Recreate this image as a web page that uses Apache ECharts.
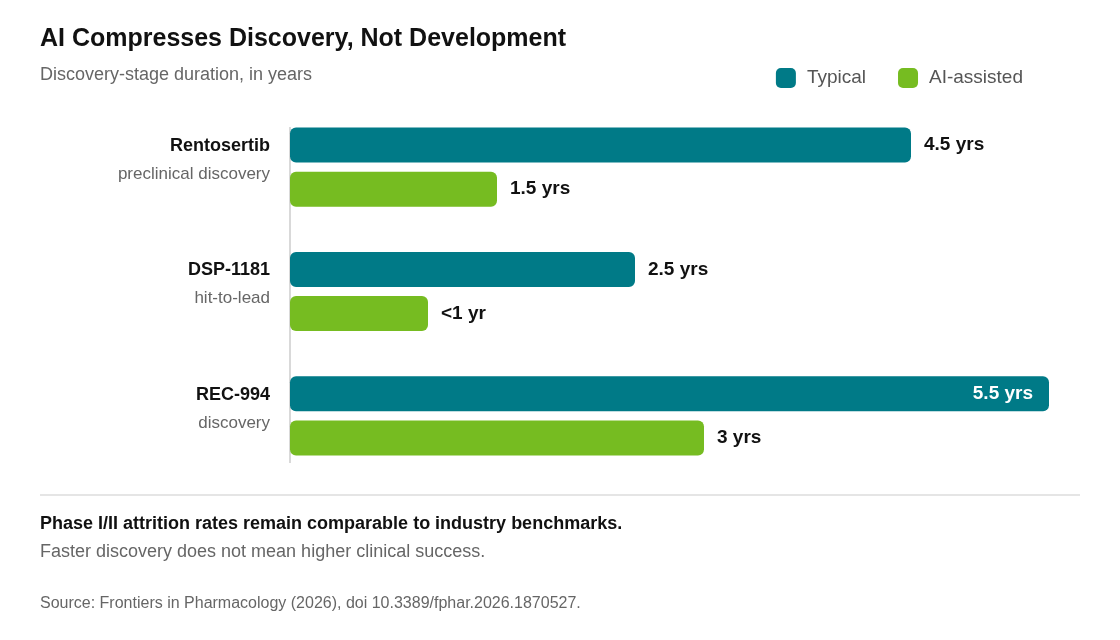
<!DOCTYPE html>
<html>
<head>
<meta charset="utf-8">
<script src="https://cdn.jsdelivr.net/npm/echarts@6/dist/echarts.min.js"></script>
<style>
  html, body { margin: 0; padding: 0; background: #fff; }
  #echart { width: 1120px; height: 640px; }
</style>
</head>
<body>
<div id="echart"></div>
<script>
var dom = document.getElementById("echart");
var myChart = echarts.init(dom);

// data
let drugs = ['Rentosertib', 'DSP-1181', 'REC-994'];
let stages = ['preclinical discovery', 'hit-to-lead', 'discovery'];
let typical = [4.5, 2.5, 5.5];
let aiAssisted = [1.5, 1, 3];
let typicalLabels = ['4.5 yrs', '2.5 yrs', '5.5 yrs'];
let aiLabels = ['1.5 yrs', '<1 yr', '3 yrs'];

let font = '"Liberation Sans", Arial, sans-serif';

let option = {
    textStyle: { fontFamily: font },
    title: {
        text: 'AI Compresses Discovery, Not Development',
        subtext: 'Discovery-stage duration, in years',
        left: 35, top: 22,
        textStyle: { fontSize: 25, fontWeight: 'bold', color: '#111', fontFamily: font },
        subtextStyle: { fontSize: 18, color: '#666', fontFamily: font },
        itemGap: 14
    },
    legend: {
        right: 92, top: 63,
        itemWidth: 20, itemHeight: 20, itemGap: 32,
        icon: 'roundRect',
        textStyle: { fontSize: 19, color: '#555', fontFamily: font, padding: [0, 0, 0, 6] },
        data: ['Typical', 'AI-assisted']
    },
    grid: { left: 290, right: 71, top: 105, bottom: 162 },
    xAxis: {
        type: 'value', min: 0, max: 5.5,
        show: false
    },
    yAxis: {
        type: 'category', inverse: true,
        data: drugs,
        axisLine: { show: false },
        axisTick: { show: false },
        axisLabel: {
            margin: 20,
            padding: [0, 0, 14, 0],
            formatter: function (v, i) {
                return '{n|' + v + '}\n{s|' + stages[i] + '}';
            },
            rich: {
                n: { fontSize: 18, fontWeight: 'bold', color: '#111', align: 'right', lineHeight: 28, fontFamily: font },
                s: { fontSize: 17, color: '#666', align: 'right', lineHeight: 28, fontFamily: font }
            }
        }
    },
    series: [
        {
            name: 'Typical', type: 'bar',
            data: typical,
            barWidth: 35, barGap: '26%', barCategoryGap: '36%',
            itemStyle: { color: '#007a87', borderRadius: 6 },
            label: {
                show: true,
                formatter: function (p) { return typicalLabels[p.dataIndex]; },
                position: 'right', distance: 13,
                fontSize: 19, fontWeight: 'bold', color: '#111', fontFamily: font
            },
            emphasis: { disabled: true }
        },
        {
            name: 'AI-assisted', type: 'bar',
            data: aiAssisted,
            barWidth: 35,
            itemStyle: { color: '#76bc21', borderRadius: 6 },
            label: {
                show: true,
                formatter: function (p) { return aiLabels[p.dataIndex]; },
                position: 'right', distance: 13,
                fontSize: 19, fontWeight: 'bold', color: '#111', fontFamily: font
            },
            emphasis: { disabled: true }
        }
    ],
    graphic: [
        { type: 'line', shape: { x1: 290, y1: 127, x2: 290, y2: 463 }, style: { stroke: '#ccc', lineWidth: 1.5 } },
        { type: 'line', shape: { x1: 40, y1: 495, x2: 1080, y2: 495 }, style: { stroke: '#ddd', lineWidth: 1.5 } },
        { type: 'text', left: 40, top: 515, style: { text: 'Phase I/II attrition rates remain comparable to industry benchmarks.', font: 'bold 18px ' + font, fill: '#111' } },
        { type: 'text', left: 40, top: 543, style: { text: 'Faster discovery does not mean higher clinical success.', font: '18px ' + font, fill: '#666' } },
        { type: 'text', left: 40, top: 596, style: { text: 'Source: Frontiers in Pharmacology (2026), doi 10.3389/fphar.2026.1870527.', font: '16px ' + font, fill: '#666' } }
    ]
};

// the longest bar carries its label inside in white
option.series[0].data = typical.map(function (v) {
    if (v === 5.5) {
        return { value: v, label: { position: 'insideRight', color: '#fff', distance: 16 } };
    }
    return v;
});

myChart.setOption(option);
</script>
</body>
</html>
